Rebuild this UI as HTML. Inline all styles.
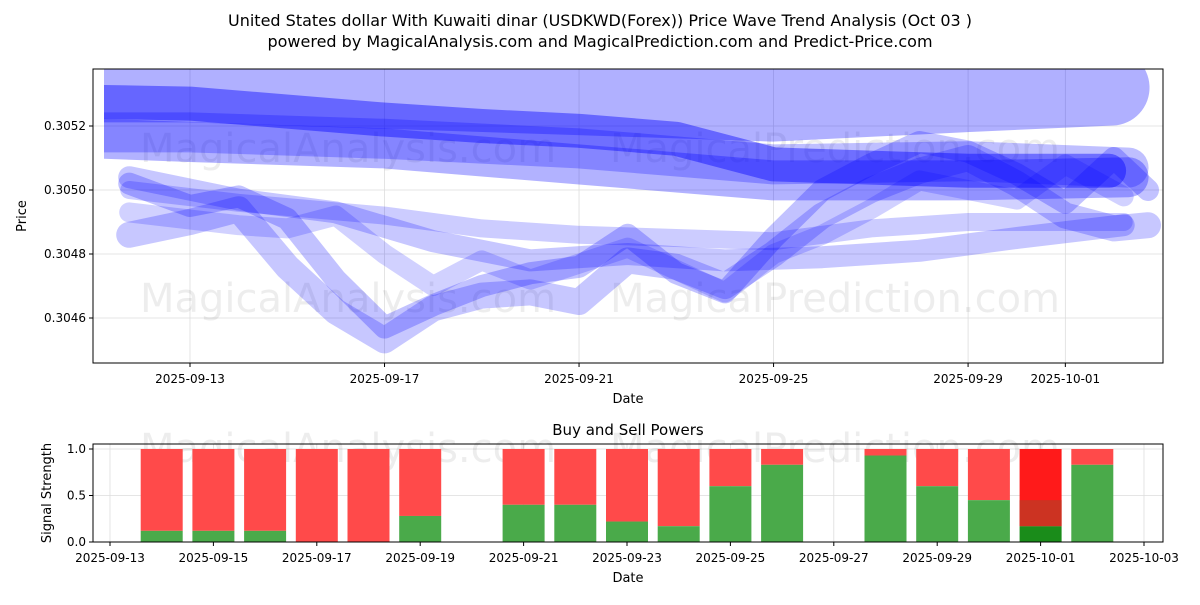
<!DOCTYPE html>
<html><head><meta charset="utf-8"><style>
body{margin:0;background:#fff;font-family:"Liberation Sans","DejaVu Sans",sans-serif}
svg text{font-family:"DejaVu Sans","Liberation Sans",sans-serif}
</style></head><body>
<svg id="c" width="1200" height="600" xmlns="http://www.w3.org/2000/svg">
<rect width="1200" height="600" fill="#fff"/>
<defs><clipPath id="cp"><rect x="104" y="69" width="1059" height="294"/></clipPath></defs>
<text x="600" y="26" text-anchor="middle" font-size="16">United States dollar With Kuwaiti dinar (USDKWD(Forex)) Price Wave Trend Analysis (Oct 03 )</text>
<text x="600" y="47" text-anchor="middle" font-size="16">powered by MagicalAnalysis.com and MagicalPrediction.com and Predict-Price.com</text>
<g id="topg"></g><g id="botg"></g>
</svg>
<script>
// ---- top chart data (days relative to 2025-09-13) ----
const bandDays = [
 [-1.75,0,4,8,12,16,18.95],
 [-1.75,0,4,6,8,10,12,16,18.9],
 [-1.75,0,4,8,12,16,19.3],
 [-1.75,0,4,8,12,16,19.3],
 [-1.25,0,1,2,3,4,5,6,7,8,9,10,11,12,13,14,15,16,17,18,19,19.7],
 [-1.25,0,1,2,3,4,5,6,7,8,9,10,11,12,13,14,15,16,17,18,19,19.7],
 [-1.25,1,3,5,7,9,11,13,15,17,19.2],
 [-1.25,1,4,6,8,10,12,14,16,19.2],
 [-1.25,1,2,3,4,5,6,7,8,9,10,11,12,13,14,15,16,17,18,19.2]
];
const bandPrices = [
 [0.30533,0.30533,0.30531,0.30529,0.30527,0.30530,0.30532],
 [0.305275,0.30527,0.30522,0.30520,0.305185,0.30516,0.30508,0.30506,0.30506],
 [0.30516,0.30515,0.30513,0.30508,0.30503,0.30503,0.30504],
 [0.30518,0.30518,0.30516,0.30513,0.30508,0.30509,0.30507],
 [0.30502,0.30495,0.30498,0.30491,0.30472,0.30457,0.30464,0.30470,0.30474,0.30476,0.30486,0.30474,0.30468,0.30485,0.30500,0.30508,0.30515,0.30512,0.30505,0.30496,0.30510,0.30500],
 [0.30486,0.30490,0.30494,0.30476,0.30462,0.30453,0.30463,0.30467,0.30468,0.30465,0.30478,0.30476,0.30470,0.30480,0.30492,0.30500,0.30506,0.30510,0.30502,0.30492,0.30488,0.30489],
 [0.30504,0.30497,0.30493,0.30484,0.30478,0.30480,0.30478,0.30479,0.30481,0.30485,0.30489],
 [0.30500,0.30496,0.30492,0.30488,0.30486,0.30485,0.30484,0.30488,0.30490,0.30490],
 [0.30493,0.30489,0.30488,0.30492,0.30480,0.30470,0.30478,0.30472,0.30477,0.30482,0.30475,0.30468,0.30480,0.30486,0.30494,0.30503,0.30500,0.30497,0.30508,0.30498]
];
const bandWidths=[76,34,40,40,22,26,22,18,20];
const bandAlpha=[0.31,0.42,0.3,0.25,0.24,0.22,0.22,0.2,0.18];
const yTicks=[0.3046,0.3048,0.3050,0.3052];
const xTickLabels=["2025-09-13","2025-09-17","2025-09-21","2025-09-25","2025-09-29","2025-10-01"];
const xTickDays=[0,4,8,12,16,18];
// ---- bottom chart data (days relative to 2025-09-13) ----
const barDays=[1,2,3,4,5,6,8,9,10,11,12,13,15,16,17,18,19];
const buyVals=[0.12,0.12,0.12,0,0,0.28,0.4,0.4,0.22,0.17,0.6,0.83,0.93,0.6,0.45,0.17,0.83];
const botTickLabels=["2025-09-13","2025-09-15","2025-09-17","2025-09-19","2025-09-21","2025-09-23","2025-09-25","2025-09-27","2025-09-29","2025-10-01","2025-10-03"];
const botTickDays=[0,2,4,6,8,10,12,14,16,18,20];

const NS="http://www.w3.org/2000/svg";
function mk(p,t,a){const e=document.createElementNS(NS,t);for(const k in a)e.setAttribute(k,a[k]);p.appendChild(e);return e;}
const topG=document.getElementById('topg'),botG=document.getElementById('botg');
const X=d=>190+d*48.63, Y=p=>190-(p-0.3050)/0.0002*64;
const L=93,R=1163,T=69,B=363;
xTickDays.forEach((d,i)=>{
 const g=mk(topG,'line',{x1:X(d),x2:X(d),y1:T,y2:B,stroke:'#ddd','stroke-width':0.8});
 
 
 mk(topG,'line',{x1:X(d),x2:X(d),y1:B,y2:B+4,stroke:'#000'});
 const t=mk(topG,'text',{x:X(d),y:B+20,'text-anchor':'middle','font-size':12});t.textContent=xTickLabels[i];
 
 
});
yTicks.forEach(v=>{
 mk(topG,'line',{x1:L,x2:R,y1:Y(v),y2:Y(v),stroke:'#ddd','stroke-width':0.8});
 mk(topG,'line',{x1:L-4,x2:L,y1:Y(v),y2:Y(v),stroke:'#000'});
 const t=mk(topG,'text',{x:L-7,y:Y(v)+4,'text-anchor':'end','font-size':12});t.textContent=v.toFixed(4);
 
 
});
[[348,162,'MagicalAnalysis.com'],[835,162,'MagicalPrediction.com'],[348,312,'MagicalAnalysis.com'],[835,312,'MagicalPrediction.com']].forEach(w=>{
 const t=mk(topG,'text',{x:w[0],y:w[1],'text-anchor':'middle','font-size':40,fill:'#000','fill-opacity':0.07});t.textContent=w[2];
 
 
});
const gb=mk(topG,'g',{'clip-path':'url(#cp)'});
bandDays.forEach((ds,i)=>{
 const pts=ds.map((d,j)=>X(d)+','+Y(bandPrices[i][j])).join(' ');
 const pl=mk(gb,'polyline',{points:pts,fill:'none',stroke:'rgb(0,0,255)','stroke-opacity':bandAlpha[i],'stroke-width':bandWidths[i],'stroke-linejoin':'round','stroke-linecap':'round'});
 
 
});
mk(topG,'rect',{x:L,y:T,width:R-L,height:B-T,fill:'none',stroke:'#000','stroke-width':1});
const xl=mk(topG,'text',{x:628,y:403,'text-anchor':'middle','font-size':13});xl.textContent='Date';


const yl=mk(topG,'text',{x:26,y:216,'text-anchor':'middle','font-size':13,transform:'rotate(-90 26 216)'});yl.textContent='Price';



// bottom
const bL=93,bR=1163,bT=444,bB=542;
const BX=d=>110+d*51.7, BY=v=>542-v*93;
const bt=mk(botG,'text',{x:628,y:435,'text-anchor':'middle','font-size':15});bt.textContent='Buy and Sell Powers';


[0,0.5,1].forEach(v=>{
 mk(botG,'line',{x1:bL,x2:bR,y1:BY(v),y2:BY(v),stroke:'#ddd','stroke-width':0.8});
 mk(botG,'line',{x1:bL-4,x2:bL,y1:BY(v),y2:BY(v),stroke:'#000'});
 const t=mk(botG,'text',{x:bL-7,y:BY(v)+4,'text-anchor':'end','font-size':12});t.textContent=v.toFixed(1);
});
botTickDays.forEach((d,i)=>{
 mk(botG,'line',{x1:BX(d),x2:BX(d),y1:bT,y2:bB,stroke:'#ddd','stroke-width':0.8});
 mk(botG,'line',{x1:BX(d),x2:BX(d),y1:bB,y2:bB+4,stroke:'#000'});
 const t=mk(botG,'text',{x:BX(d),y:bB+20,'text-anchor':'middle','font-size':12});t.textContent=botTickLabels[i];
});
[[348,462,'MagicalAnalysis.com'],[835,462,'MagicalPrediction.com']].forEach(w=>{
 const t=mk(botG,'text',{x:w[0],y:w[1],'text-anchor':'middle','font-size':40,fill:'#000','fill-opacity':0.07});t.textContent=w[2];
});
barDays.forEach((d,i)=>{
 const v=buyVals[i],last=d===18;
 const r=mk(botG,'rect',{x:BX(d)-21,y:BY(1),width:42,height:BY(v)-BY(1),fill:last?'#ff1a1a':'#ff4a4a'});
 
 
 const g=mk(botG,'rect',{x:BX(d)-21,y:BY(v),width:42,height:BY(0)-BY(v),fill:last?'#1a8c1a':'#4aaa4a'});
 
 
 if(last){mk(botG,'rect',{x:BX(d)-21,y:BY(0.45),width:42,height:BY(v)-BY(0.45),fill:'#cc3322'});}
});
mk(botG,'rect',{x:bL,y:bT,width:bR-bL,height:bB-bT,fill:'none',stroke:'#000'});
const bxl=mk(botG,'text',{x:628,y:582,'text-anchor':'middle','font-size':13});bxl.textContent='Date';
const byl=mk(botG,'text',{x:51,y:493,'text-anchor':'middle','font-size':13,transform:'rotate(-90 51 493)'});byl.textContent='Signal Strength';
</script>
</body></html>
